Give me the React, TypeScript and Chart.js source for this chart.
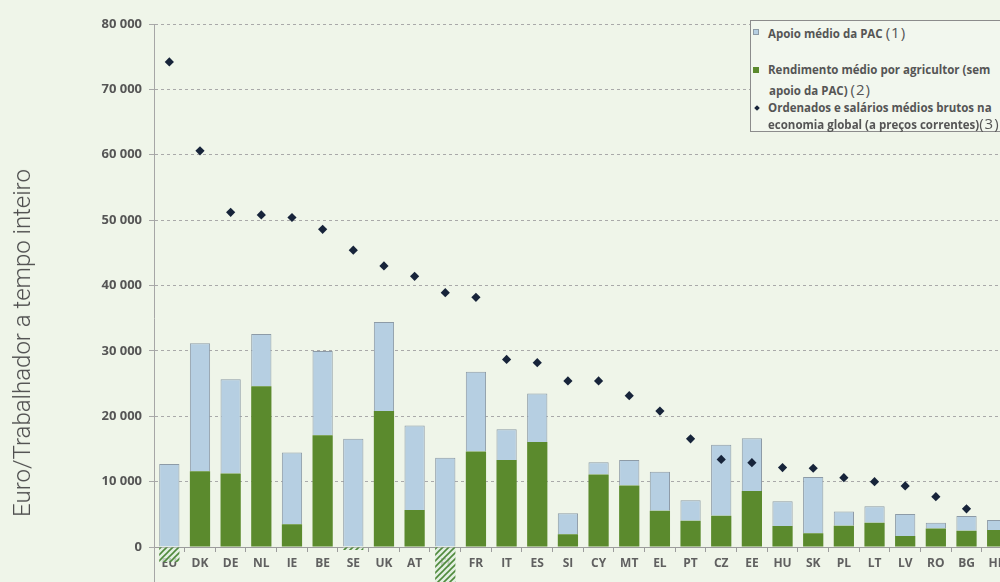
import React, { useEffect, useRef } from "react";
import { Chart, registerables } from "chart.js";

Chart.register(...registerables);

// Categories (Member States)
const countries = [
  "EU", "DK", "DE", "NL", "IE", "BE", "SE", "UK", "AT", "FI", "FR", "IT", "ES", "SI",
  "CY", "MT", "EL", "PT", "CZ", "EE", "HU", "SK", "PL", "LT", "LV", "RO", "BG", "HR",
];

// Rendimento médio por agricultor (sem apoio da PAC) (2)
const income = [
  -2300, 11600, 11250, 24600, 3500, 17100, -450, 20800, 5650, -6500, 14600, 13300, 16050, 1950,
  11100, 9400, 5550, 4000, 4800, 8550, 3200, 2100, 3250, 3700, 1700, 2850, 2500, 2600,
];

// Apoio médio da PAC (1)
const support = [
  12700, 19550, 14400, 8000, 10950, 12900, 16550, 13600, 12950, 13650, 12200, 4700, 7450, 3200,
  1850, 3900, 5950, 3150, 10850, 8100, 3800, 8600, 2200, 2550, 3350, 850, 2250, 1550,
];

// Ordenados e salários médios brutos na economia global (3)
const wages: (number | null)[] = [
  74200, 60600, 51200, 50800, 50400, 48600, 45400, 43000, 41400, 38900, 38200, 28700, 28200, 25400,
  25400, 23150, 20800, 16550, 13400, 12900, 12150, 12050, 10600, 10000, 9350, 7700, 5850, null,
];

const yMin = -10000;
const yMax = 80000;
const yStep = 10000;

const legendLabels = [
  "Apoio médio da PAC",
  "Rendimento médio por agricultor (sem",
  "apoio da PAC)",
  "Ordenados e salários médios brutos na",
  "economia global (a preços correntes)",
];
const yTitle = "Euro/Trabalhador a tempo inteiro";

const BG = "#eff5e9";
const GREEN = "#5b8a2d";
const BLUE = "#b6cfe2";
const BLUE_BORDER = "#8d9ba7";
const DIAMOND = "#17243a";

function fmt(v: number) {
  return String(v).replace(/\B(?=(\d{3})+(?!\d))/g, " ");
}

function makeHatch(): CanvasPattern | string {
  const c = document.createElement("canvas");
  c.width = 6;
  c.height = 6;
  const g = c.getContext("2d");
  if (!g) return GREEN;
  g.fillStyle = "rgba(222,236,222,0.75)";
  g.fillRect(0, 0, 6, 6);
  g.strokeStyle = "#4f8a3c";
  g.lineWidth = 1.6;
  g.beginPath();
  g.moveTo(0, 6);
  g.lineTo(6, 0);
  g.moveTo(-1, 1);
  g.lineTo(1, -1);
  g.moveTo(5, 7);
  g.lineTo(7, 5);
  g.stroke();
  return g.createPattern(c, "repeat") || GREEN;
}

export default function App() {
  const ref = useRef<HTMLCanvasElement | null>(null);

  useEffect(() => {
    if (!ref.current) return;
    const hatch = makeHatch();
    const tickFont = { family: "'Open Sans', sans-serif", weight: "bold" as const, size: 13 };
    const chart = new Chart(ref.current, {
      type: "bar",
      data: {
        labels: countries,
        datasets: [
          {
            type: "bar",
            label: "Rendimento médio por agricultor (sem apoio da PAC) (2)",
            data: income,
            backgroundColor: income.map((v) => (v < 0 ? hatch : GREEN)) as any,
            borderWidth: 0,
            stack: "farm",
            barPercentage: 1,
            categoryPercentage: 0.66,
            order: 2,
          },
          {
            type: "bar",
            label: "Apoio médio da PAC (1)",
            data: support,
            backgroundColor: BLUE,
            borderColor: BLUE_BORDER,
            borderWidth: 1,
            stack: "farm",
            barPercentage: 1,
            categoryPercentage: 0.66,
            order: 2,
          },
          {
            type: "line",
            label: "Ordenados e salários médios brutos na economia global (a preços correntes)(3)",
            data: wages,
            showLine: false,
            pointStyle: "rectRot",
            pointRadius: 4.6,
            pointBackgroundColor: DIAMOND,
            pointBorderWidth: 0,
            stack: "wages",
            order: 1,
          } as any,
        ],
      },
      options: {
        animation: false,
        responsive: false,
        layout: { padding: { left: 0, top: 24, right: 17.5, bottom: 27.6 } },
        plugins: { legend: { display: false }, tooltip: { enabled: false } },
        scales: {
          x: {
            stacked: true,
            position: { y: 0 } as any,
            afterFit: (s: any) => {
              s.height = 0;
            },
            grid: {
              drawOnChartArea: false,
              drawTicks: true,
              tickLength: 4,
              color: "#9c9c9c",
              offset: true,
            },
            border: { display: true, color: "#9c9c9c", width: 1 },
            ticks: {
              autoSkip: false,
              maxRotation: 0,
              minRotation: 0,
              padding: 5,
              color: "#606060",
              font: { family: "'Open Sans', sans-serif", weight: "bold", size: 12 },
            },
          },
          y: {
            stacked: true,
            min: yMin,
            max: yMax,
            afterFit: (s: any) => {
              s.width = 154;
            },
            ticks: {
              stepSize: yStep,
              padding: 7,
              color: "#555555",
              font: tickFont,
              callback: (v: any) => fmt(Number(v)),
            },
            grid: { color: "#a9a9a9", tickLength: 5, drawTicks: true, lineWidth: 1 },
            border: { display: true, color: "#a6a6a6", width: 1, dash: [3, 3] },
          },
        },
      },
    });
    return () => chart.destroy();
  }, []);

  const legText: React.CSSProperties = {
    position: "absolute",
    left: 17,
    height: 16,
    lineHeight: "16px",
    whiteSpace: "nowrap",
    fontFamily: "'Open Sans', sans-serif",
    fontWeight: 700,
    fontSize: 11.5,
    color: "#555",
  };
  const note: React.CSSProperties = {
    fontFamily: "'Open Sans', sans-serif",
    fontWeight: 400,
    fontSize: 15,
    letterSpacing: 1,
    color: "#555",
  };
  const square = (color: string, top: number): React.CSSProperties => ({
    position: "absolute",
    left: 2,
    top,
    width: 6,
    height: 6,
    background: color,
    border: "1px solid #8d9ba7",
    boxSizing: "border-box",
  });

  return (
    <div
      style={{
        position: "fixed",
        left: 0,
        top: 0,
        width: 1000,
        height: 582,
        overflow: "hidden",
        background: BG,
      }}
    >
      <canvas
        ref={ref}
        width={1030}
        height={640}
        style={{ position: "absolute", left: 0, top: 0, width: 1030, height: 640 }}
      />
      <div
        style={{
          position: "absolute",
          left: 22,
          top: 343,
          transform: "translate(-50%, -50%) rotate(-90deg)",
          whiteSpace: "nowrap",
          fontFamily: "Roboto, 'Liberation Sans', sans-serif",
          fontWeight: 300,
          fontSize: 24,
          color: "#4f4f4f",
        }}
      >
        {yTitle}
      </div>
      <div
        style={{
          position: "absolute",
          left: 750,
          top: 20,
          width: 300,
          height: 112,
          border: "1px solid #8c8c8c",
          boxSizing: "border-box",
          background: "#f2f7ee",
        }}
      >
        <div style={square(BLUE, 8)} />
        <div style={{ ...legText, top: 3 }}>
          {legendLabels[0]} <span style={note}>(1)</span>
        </div>
        <div style={{ ...square(GREEN, 46), border: "none" }} />
        <div style={{ ...legText, top: 41 }}>{legendLabels[1]}</div>
        <div style={{ ...legText, top: 60, left: 18 }}>
          {legendLabels[2]} <span style={note}>(2)</span>
        </div>
        <div
          style={{
            position: "absolute",
            left: 4,
            top: 85,
            width: 4,
            height: 4,
            background: DIAMOND,
            transform: "rotate(45deg)",
          }}
        />
        <div style={{ ...legText, top: 79 }}>{legendLabels[3]}</div>
        <div style={{ ...legText, top: 94 }}>
          {legendLabels[4]}
          <span style={note}>(3)</span>
        </div>
      </div>
    </div>
  );
}
